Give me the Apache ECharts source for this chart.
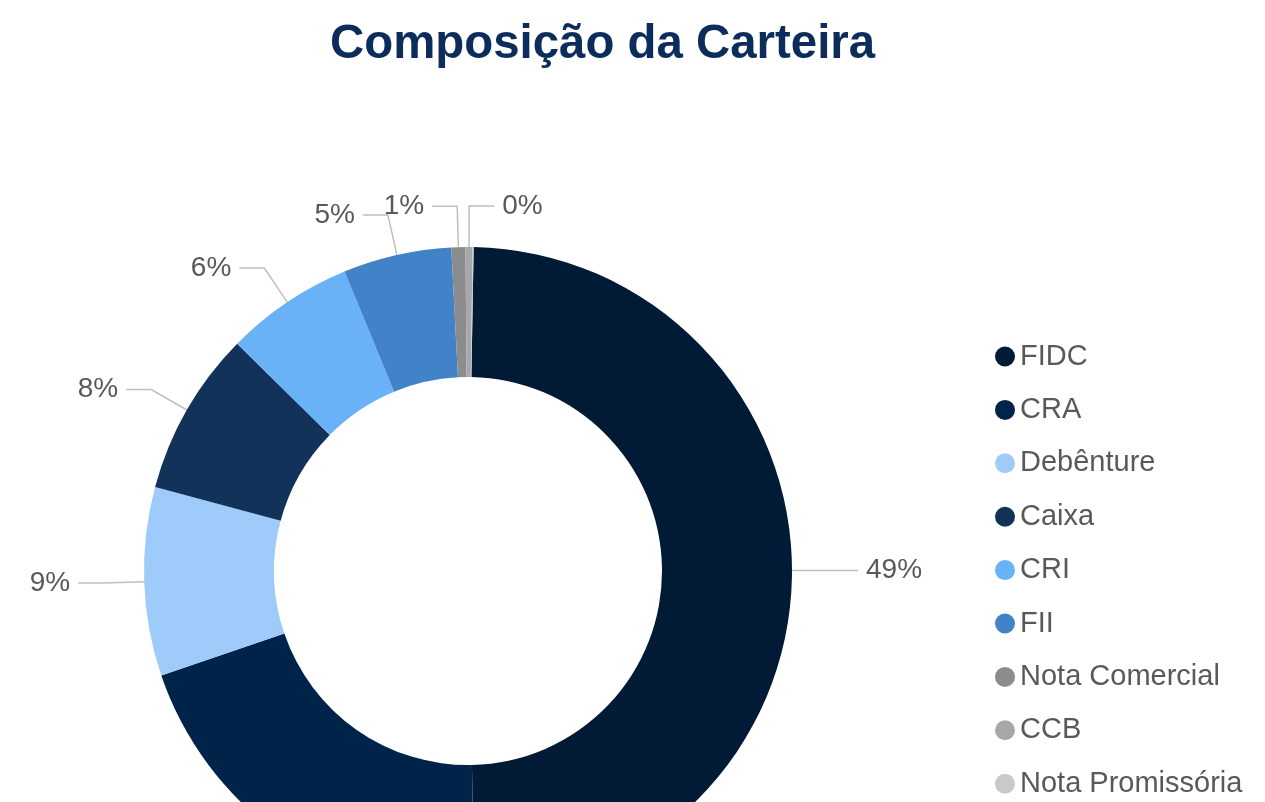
<!DOCTYPE html>
<html>
<head>
<meta charset="utf-8">
<script src="https://cdn.jsdelivr.net/npm/echarts@6/dist/echarts.min.js"></script>
<style>
html,body{margin:0;padding:0;background:#fff;}
#chart{width:1265px;height:802px;}
</style>
</head>
<body>
<div id="chart"></div>
<script>
const categories = ['FIDC','CRA','Debênture','Caixa','CRI','FII','Nota Comercial','CCB','Nota Promissória'];
const values = [49.4, 20.1, 9.4, 8.2, 6.4, 5.4, 0.7, 0.35, 0.05];
const colors = ['#011a35','#00234a','#9fcbfa','#12325a','#6ab2f8','#4182c8','#8b8c8e','#a7a8aa','#c9c9c9'];
const hiddenLabels = ['Nota Promissória'];

const chart = echarts.init(document.getElementById('chart'), null, {renderer:'canvas'});
const data = categories.map((c,i)=>({
  name:c, value:values[i],
  itemStyle:{color:colors[i]},
  label:{show: hiddenLabels.indexOf(c) < 0},
  labelLine:{show: hiddenLabels.indexOf(c) < 0}
}));
chart.setOption({
  backgroundColor:'#ffffff',
  animation:false,
  title:{
    text:'Composição da Carteira',
    left:325, top:16,
    textStyle:{fontFamily:'Liberation Sans, Arial, sans-serif', fontSize:47.4, fontWeight:'bold', color:'#0c2d5c'}
  },
  legend:{
    orient:'vertical', left:990, top:337, height:520,
    icon:'circle', itemWidth:20, itemHeight:20, itemGap:24.4,
    textStyle:{fontFamily:'Liberation Sans, Arial, sans-serif', fontSize:29, color:'#595959'},
    data:categories
  },
  series:[{
    type:'pie',
    center:[468,571],
    radius:[194,324],
    startAngle:89,
    clockwise:true,
    avoidLabelOverlap:false,
    label:{
      show:true, position:'outside',
      fontFamily:'Liberation Sans, Arial, sans-serif', fontSize:28, color:'#595959',
      distanceToLabelLine:8,
      formatter:p=>Math.round(p.percent)+'%'
    },
    labelLine:{show:true, length:41, length2:25, smooth:false, lineStyle:{color:'#bfbfbf', width:1.5}},
    emphasis:{disabled:true},
    data:data
  }]
});
</script>
</body>
</html>
